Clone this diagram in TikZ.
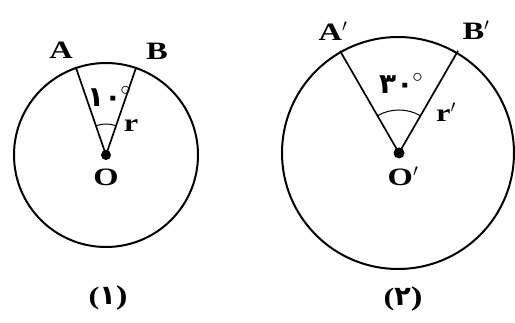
\documentclass[tikz,border=0pt]{standalone}
\usepackage{fontspec}
\setmainfont[FakeStretch=1.3]{Liberation Serif}
\newfontfamily\arabicfont[Script=Arabic]{DejaVu Sans}
\begin{document}
\begin{tikzpicture}[x=1pt, y=-1pt, every node/.style={font=\fontsize{25}{27}\selectfont\bfseries, inner sep=0pt},
  rim/.style={line width=2pt}, ray/.style={line width=1.7pt}, angarc/.style={line width=1pt},
  deg/.style={font=\arabicfont\fontsize{28}{28}\selectfont\bfseries}]
  \useasboundingbox (0,0) rectangle (515,323);
  % circle (1)
  \coordinate (o1) at (106,155);
  \draw[rim] (o1) circle[radius=92];
  \coordinate (a1) at ([shift={(-109:92)}]o1); \coordinate (b1) at ([shift={(-71:92)}]o1);
  \draw[ray] (a1) -- (o1) -- (b1);
  \draw[angarc] ([shift={(-109:31)}]o1) arc[start angle=-109, end angle=-71, radius=31];
  \fill (o1) circle[radius=5];
  \node (la1) at (61,50) {A}; \node (lb1) at (157,51) {B};
  \node (lo1) at (106,177) {O}; \node (lr1) at (131,126) {r};
  \node[deg] (ang1) at (109,96) {۱۰\kern-1pt\raisebox{0.4em}{\fontsize{20}{20}\selectfont$\circ$}};
  \node (cap1) at (108,298) {(\arabicfont\fontsize{27}{27}\selectfont ۱\normalfont\bfseries)};
  % circle (2)
  \coordinate (o2) at (399,153);
  \draw[rim] ([xshift=-1pt]o2) circle[radius=116];
  \coordinate (a2) at ([shift={(-120:118)}]o2); \coordinate (b2) at ([shift={(-60:118)}]o2);
  \draw[ray] (a2) -- (o2) -- (b2);
  \draw[angarc] ([shift={(-120:43)}]o2) arc[start angle=-120, end angle=-60, radius=43];
  \fill (o2) circle[radius=5.5];
  \node (la2) at (333,31) {A$^{\prime}$}; \node (lb2) at (476,30) {B$^{\prime}$};
  \node (lo2) at (403,176) {O$^{\prime}$}; \node (lr2) at (446,112) {r$^{\prime}$};
  \node[deg] (ang2) at (401,83) {۳۰\kern-1pt\raisebox{0.4em}{\fontsize{20}{20}\selectfont$\circ$}};
  \node (cap2) at (403,299) {(\arabicfont\fontsize{27}{27}\selectfont ۲\normalfont\bfseries)};
\end{tikzpicture}
\end{document}
